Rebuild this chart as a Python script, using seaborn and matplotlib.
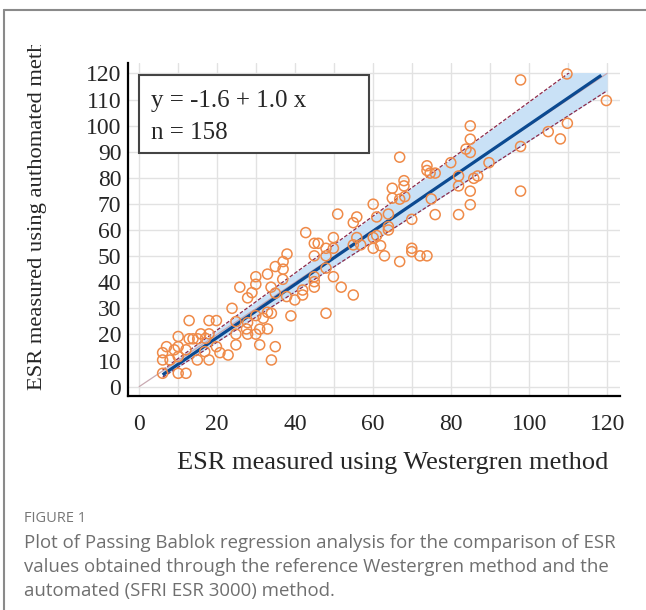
import numpy as np
import pandas as pd
import matplotlib
matplotlib.use("Agg")
import matplotlib.pyplot as plt
import seaborn as sns
from matplotlib.patches import Rectangle
from matplotlib.lines import Line2D
from matplotlib.transforms import Bbox, TransformedBbox
from matplotlib.ticker import MultipleLocator

# ---------------- data ----------------
westergren = [
    109.7, 97.8, 119.8, 109.8, 104.9, 108.0, 97.8, 97.8, 84.9, 84.9,
    83.8, 84.9, 89.7, 79.9, 81.9, 86.8, 85.8, 81.9, 84.9, 84.9,
    81.9, 66.8, 73.8, 73.8, 74.6, 75.9, 67.9, 67.9, 64.9, 64.9,
    66.8, 68.1, 74.9, 60.0, 75.9, 69.9, 63.9, 60.9, 54.9, 55.8,
    50.9, 42.7, 63.9, 63.9, 60.9, 60.0, 55.8, 54.9, 56.8, 60.0,
    61.9, 62.9, 69.9, 69.9, 72.0, 73.8, 49.8, 49.8, 47.9, 44.9,
    45.9, 47.9, 44.9, 66.8, 47.9, 44.9, 44.9, 44.9, 49.8, 51.8,
    54.9, 47.9, 41.9, 41.9, 37.9, 36.9, 34.9, 36.9, 32.9, 29.9,
    29.9, 36.8, 25.8, 33.8, 28.9, 27.8, 34.9, 37.8, 39.9, 23.8,
    29.9, 31.8, 32.9, 33.9, 27.8, 24.8, 27.5, 30.9, 32.9, 29.9,
    27.8, 24.8, 30.9, 34.9, 38.9, 33.9, 24.8, 12.8, 17.9, 19.8,
    15.8, 17.9, 10.0, 12.8, 13.8, 15.0, 17.0, 7.0, 10.0, 9.0,
    12.0, 19.8, 16.8, 20.7, 22.8, 6.0, 6.0, 7.9, 10.0, 14.9,
    17.9, 6.0, 10.0, 12.0,
]
automated = [
    119.8, 117.5, 109.6, 100.9, 97.7, 94.9, 92.0, 74.9, 99.9, 94.8,
    91.0, 89.7, 85.8, 85.8, 80.7, 80.7, 79.8, 76.9, 74.9, 69.7,
    65.9, 87.9, 84.6, 82.8, 81.8, 81.8, 78.9, 76.9, 76.0, 72.2,
    71.8, 72.8, 71.9, 69.9, 65.9, 64.1, 66.1, 65.0, 62.8, 65.0,
    66.1, 59.0, 61.3, 60.0, 57.9, 57.1, 57.1, 54.3, 54.3, 53.0,
    54.0, 50.1, 53.0, 51.7, 50.1, 50.1, 57.1, 53.0, 53.0, 54.9,
    54.9, 50.1, 50.1, 47.9, 45.4, 42.1, 40.2, 38.1, 42.1, 38.1,
    35.1, 28.1, 37.0, 35.1, 50.8, 47.9, 46.0, 45.0, 43.1, 42.1,
    39.2, 41.1, 38.1, 38.1, 36.0, 34.0, 35.8, 34.5, 33.2, 30.0,
    27.2, 26.2, 28.5, 28.1, 24.5, 24.9, 22.1, 22.0, 22.1, 20.1,
    20.1, 20.1, 16.0, 15.3, 27.1, 10.2, 16.0, 25.3, 25.3, 25.3,
    20.2, 20.2, 19.2, 18.3, 18.3, 18.3, 18.5, 15.3, 15.3, 14.1,
    14.1, 15.3, 13.4, 13.0, 12.1, 13.0, 10.2, 10.2, 11.5, 10.2,
    10.2, 5.1, 5.1, 5.1,
]
# Passing-Bablok fit and confidence band (intercept, slope)
fit_intercept, fit_slope = -1.6, 1.02
upper_intercept, upper_slope = -0.15, 1.092
lower_intercept, lower_slope = -2.2, 0.963
line_range = [6.0, 118.5]
band_range = [6.0, 120.0]
identity_range = [0.0, 120.0]

eq_text = "y = -1.6 + 1.0 x"
n_text = "n = 158"
x_label = "ESR measured using Westergren method"
y_label = "ESR measured using authomated method"
fig_label = "FIGURE 1"
caption = ("Plot of Passing Bablok regression analysis for the comparison of ESR\n"
           "values obtained through the reference Westergren method and the\n"
           "automated (SFRI ESR 3000) method.")

df = pd.DataFrame({"westergren": westergren, "automated": automated})

# ---------------- figure ----------------
sns.set_theme(style="white")
plt.rcParams["font.family"] = ["Liberation Serif", "DejaVu Serif"]

W, H = 646, 610
fig = plt.figure(figsize=(W / 100, H / 100), dpi=100)
fig.patch.set_facecolor("white")
ax = fig.add_axes([128.3 / W, 1 - 396 / H, (620 - 128.3) / W, (396 - 62.7) / H])
ax.set_xlim(-2.8, 123.3)
ax.set_ylim(-3.6, 124.1)

# grid
ax.set_xticks(np.arange(0, 121, 10))
ax.set_yticks(np.arange(0, 121, 10))
ax.xaxis.set_minor_locator(MultipleLocator(5))
ax.yaxis.set_minor_locator(MultipleLocator(5))
ax.grid(True, which="major", color="#e2e2e2", lw=1.0)
ax.set_axisbelow(True)

# clip region for band (y <= 120)
clip_rect = Rectangle((-10, -10), 140, 130, transform=ax.transData)

bx = np.array(band_range)
up = upper_intercept + upper_slope * bx
lo = lower_intercept + lower_slope * bx
fb = ax.fill_between(bx, lo, up, color="#c9e1f6", lw=0, zorder=1)
fb.set_clip_path(clip_rect)
l1, = ax.plot(bx, up, color="#8c2a4a", lw=0.9, ls=(0, (3, 1.5)), zorder=3)
l2, = ax.plot(bx, lo, color="#8c2a4a", lw=0.9, ls=(0, (3, 1.5)), zorder=3)
l1.set_clip_path(clip_rect)
l2.set_clip_path(clip_rect)

ix = np.array(identity_range)
ax.plot(ix, ix, color="#c9aab2", lw=0.9, zorder=2)

lx = np.array(line_range)
ax.plot(lx, fit_intercept + fit_slope * lx, color="#0b4a91", lw=2.3, zorder=4,
        solid_capstyle="butt")

sns.scatterplot(data=df, x="westergren", y="automated", ax=ax, marker="o",
                s=52, facecolor="none", edgecolor="#ef8a48", linewidth=1.1,
                zorder=5, legend=False)

# spines / ticks
for s in ["top", "right"]:
    ax.spines[s].set_visible(False)
for s in ["left", "bottom"]:
    ax.spines[s].set_color("black")
    ax.spines[s].set_linewidth(1.6)
ax.set_xticklabels([str(v) if v % 20 == 0 else "" for v in range(0, 121, 10)])
ax.set_yticklabels([str(v) for v in range(0, 121, 10)])
ax.tick_params(axis="both", which="major", direction="in", length=7, width=1.3,
               color="black")
ax.tick_params(axis="both", which="minor", direction="in", length=4, width=1.1,
               color="black")
ax.tick_params(axis="x", which="major", labelsize=17, pad=13)
ax.tick_params(axis="y", which="major", labelsize=17, pad=5)
ax.set_xlabel("")
ax.set_ylabel("")

# equation box
ax.add_patch(Rectangle((0, 89.5), 59, 30, facecolor="white", edgecolor="#444444",
                       lw=1.5, zorder=6))
ax.text(3, 109.5, eq_text, fontsize=18, va="center", ha="left", zorder=7)
ax.text(3, 97.2, n_text, fontsize=18, va="center", ha="left", zorder=7)

# axis titles
fig.text(393 / W, 1 - 463 / H, x_label, fontsize=19, ha="center", va="center")
yl = fig.text(38 / W, 1 - 390 / H, y_label, fontsize=16.2, rotation=90,
              ha="center", va="bottom")
yl.set_clip_on(True)
yl.set_clip_box(TransformedBbox(Bbox([[0, 0], [1, 1 - 45 / H]]), fig.transFigure))

# caption
fig.text(24 / W, 1 - 518 / H, fig_label, fontsize=10.5, color="#777777",
         family=["Open Sans", "DejaVu Sans"], va="center", ha="left")
fig.text(24 / W, 1 - 534 / H, caption, fontsize=13.4, color="#6f6f6f",
         family=["Open Sans", "DejaVu Sans"], va="top", ha="left",
         linespacing=1.42)

# frame lines (left and top)
fig.add_artist(Line2D([4 / W, 4 / W], [0, 1 - 10 / H], transform=fig.transFigure,
                      color="#8a8a8a", lw=1.5))
fig.add_artist(Line2D([4 / W, 1], [1 - 10 / H, 1 - 10 / H], transform=fig.transFigure,
                      color="#8a8a8a", lw=1.5))

fig.savefig("out.png", dpi=100)
